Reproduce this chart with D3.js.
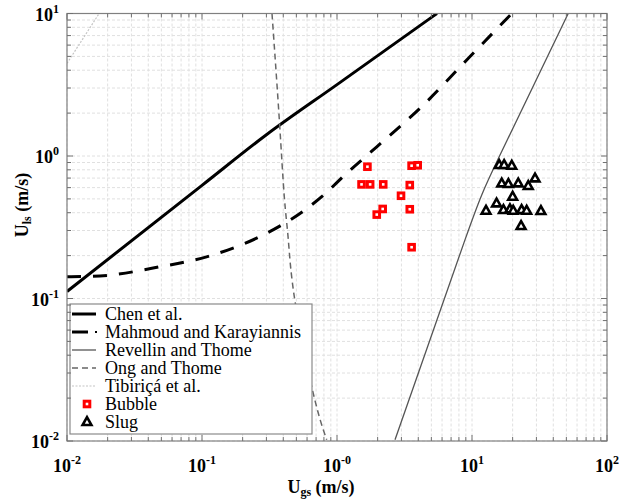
<!DOCTYPE html>
<html><head><meta charset="utf-8">
<script src="https://cdn.jsdelivr.net/npm/d3@7"></script>
<style>body{margin:0;background:#fff}svg{display:block}
text{font-family:"Liberation Serif","Times New Roman","DejaVu Serif",serif}</style>
</head><body><svg id="c" width="621" height="499"></svg>
<script>
// ---- data ----
const xTickVals = [1e-2, 1e-1, 1e0, 1e1, 1e2];
const xTickLabels = [["10","-2"],["10","-1"],["10","-0"],["10","1"],["10","2"]];
const yTickVals = [1e-2, 1e-1, 1e0, 1e1];
const yTickLabels = [["10","-2"],["10","-1"],["10","0"],["10","1"]];

const chenX = [0.01, 0.1, 0.3, 1, 5.5];
const chenY = [0.112, 0.622, 1.41, 3.17, 10];
const mahX = [0.01, 0.0175, 0.0489, 0.108, 0.170, 0.269, 0.771, 1.18, 1.97, 4.24, 9.14, 19.7];
const mahY = [0.142, 0.144, 0.167, 0.196, 0.226, 0.272, 0.518, 0.757, 1.16, 2.22, 4.72, 10];
const revX = [2.69, 8.87, 15.7, 51.6];
const revY = [0.0102, 0.258, 0.964, 10];
const ongX = [0.330, 0.374, 0.407, 0.436, 0.489, 0.667, 0.839];
const ongY = [10, 1.79, 0.518, 0.258, 0.095, 0.0216, 0.0102];
const tibX = [0.01, 0.0173];
const tibY = [4.47, 10];

const bubbleX = [1.68, 3.57, 3.96, 1.52, 1.76, 2.20, 3.46, 2.98, 2.18, 1.97, 3.46, 3.57];
const bubbleY = [0.841, 0.855, 0.861, 0.632, 0.632, 0.632, 0.625, 0.526, 0.425, 0.388, 0.423, 0.229];
const slugX = [15.9, 17.3, 19.7, 29.3, 16.6, 18.6, 22.0, 26.1, 20.0, 15.2, 12.7, 17.1, 19.1, 20.2, 23.3, 25.4, 32.4, 23.1];
const slugY = [0.865, 0.865, 0.855, 0.697, 0.643, 0.636, 0.643, 0.616, 0.518, 0.465, 0.413, 0.418, 0.423, 0.413, 0.418, 0.413, 0.411, 0.323];

const legendNames = ["Chen et al.", "Mahmoud and Karayiannis", "Revellin and Thome", "Ong and Thome", "Tibiriçá et al.", "Bubble", "Slug"];

// ---- layout ----
const L = 67, R = 607, T = 13.5, B = 441;
const svg = d3.select("#c");
const x = d3.scaleLog().domain([1e-2, 1e2]).range([L, R]);
const y = d3.scaleLog().domain([1e-2, 1e1]).range([B, T]);

svg.append("rect").attr("width", 621).attr("height", 499).attr("fill", "#fff");

const xMinor = [], yMinor = [];
for (let e = -2; e < 2; e++) for (let k = 1; k <= 9; k++) xMinor.push(k * Math.pow(10, e));
xMinor.push(100);
for (let e = -2; e < 1; e++) for (let k = 1; k <= 9; k++) yMinor.push(k * Math.pow(10, e));
yMinor.push(10);

const grid = svg.append("g").attr("stroke", "#e0e0e0").attr("stroke-width", 1).attr("stroke-dasharray", "3,2");
grid.selectAll("line.vx").data(xMinor).join("line")
  .attr("x1", d => x(d)).attr("x2", d => x(d)).attr("y1", T).attr("y2", B);
grid.selectAll("line.hy").data(yMinor).join("line")
  .attr("y1", d => y(d)).attr("y2", d => y(d)).attr("x1", L).attr("x2", R);

svg.append("clipPath").attr("id", "clip").append("rect")
  .attr("x", L).attr("y", T).attr("width", R - L).attr("height", B - T);

const zip = (a, b) => a.map((v, i) => [v, b[i]]);
const curves = svg.append("g").attr("clip-path", "url(#clip)").attr("fill", "none");

const styles = [
  {stroke: "#000", w: 3, dash: null, curve: d3.curveMonotoneX},
  {stroke: "#000", w: 3, dash: "14,12", curve: d3.curveMonotoneX},
  {stroke: "#555", w: 1.3, dash: null, curve: d3.curveNatural},
  {stroke: "#666", w: 1.5, dash: "6,4", curve: d3.curveNatural},
  {stroke: "#c4c4c4", w: 1.2, dash: "2,1.5", curve: d3.curveLinear}
];
const series = [zip(chenX, chenY), zip(mahX, mahY), zip(revX, revY), zip(ongX, ongY), zip(tibX, tibY)];
series.forEach((s, i) => {
  const line = d3.line().x(d => x(d[0])).y(d => y(d[1])).curve(styles[i].curve);
  curves.append("path").attr("d", line(s))
    .attr("stroke", styles[i].stroke).attr("stroke-width", styles[i].w)
    .attr("stroke-dasharray", styles[i].dash);
});

function bubble(g, cx, cy) {
  g.append("rect").attr("x", cx - 2.8).attr("y", cy - 2.8).attr("width", 5.6).attr("height", 5.6)
    .attr("fill", "#fff").attr("stroke", "#f00").attr("stroke-width", 3);
}
function tri(g, cx, cy) {
  g.append("path").attr("d", `M${cx},${cy - 4.8}L${cx + 4.4},${cy + 3}L${cx - 4.4},${cy + 3}Z`)
    .attr("fill", "#fff").attr("stroke", "#000").attr("stroke-width", 2.6).attr("stroke-linejoin", "miter");
}
const mk = svg.append("g");
bubbleX.forEach((v, i) => bubble(mk, x(v), y(bubbleY[i])));
slugX.forEach((v, i) => tri(mk, x(v), y(slugY[i])));

// legend
const lg = svg.append("g");
lg.append("rect").attr("x", 70).attr("y", 304).attr("width", 242).attr("height", 130)
  .attr("fill", "#fff").attr("stroke", "#8a8a8a").attr("stroke-width", 1.2);
legendNames.forEach((name, i) => {
  const base = 320 + i * 18, cy = base - 6;
  if (i < 5) {
    const st = styles[i];
    if (i === 1) {
      lg.append("line").attr("x1", 72).attr("x2", 88).attr("y1", cy).attr("y2", cy)
        .attr("stroke", "#000").attr("stroke-width", 3);
      lg.append("line").attr("x1", 95).attr("x2", 97).attr("y1", cy).attr("y2", cy)
        .attr("stroke", "#000").attr("stroke-width", 2);
    } else {
      lg.append("line").attr("x1", 72).attr("x2", 96).attr("y1", cy).attr("y2", cy)
        .attr("stroke", st.stroke).attr("stroke-width", st.w).attr("stroke-dasharray", st.dash);
    }
  } else if (i === 5) bubble(lg, 87, cy);
  else tri(lg, 87, cy);
  lg.append("text").attr("x", 105).attr("y", base)
    .attr("font-size", 18).attr("fill", "#000").text(name);
});

svg.append("rect").attr("x", L).attr("y", T).attr("width", R - L).attr("height", B - T)
  .attr("fill", "none").attr("stroke", "#808080").attr("stroke-width", 1.2);

const tk = svg.append("g").attr("stroke", "#707070").attr("stroke-width", 1);
const isMajor = v => Math.abs(Math.log10(v) - Math.round(Math.log10(v))) < 1e-9;
xMinor.forEach(v => {
  const len = isMajor(v) ? 6 : 4;
  tk.append("line").attr("x1", x(v)).attr("x2", x(v)).attr("y1", B).attr("y2", B - len);
  tk.append("line").attr("x1", x(v)).attr("x2", x(v)).attr("y1", T).attr("y2", T + len);
});
yMinor.forEach(v => {
  const len = isMajor(v) ? 6 : 4;
  tk.append("line").attr("y1", y(v)).attr("y2", y(v)).attr("x1", L).attr("x2", L + len);
  tk.append("line").attr("y1", y(v)).attr("y2", y(v)).attr("x1", R).attr("x2", R - len);
});

function supLabel(g, px, py, parts, anchor) {
  const t = g.append("text").attr("x", px).attr("y", py).attr("text-anchor", anchor)
    .attr("font-weight", "bold").attr("font-size", 18).attr("fill", "#000");
  t.append("tspan").text(parts[0]);
  t.append("tspan").attr("dy", -8).attr("font-size", 12).text(parts[1]);
}
const lab = svg.append("g");
xTickVals.forEach((v, i) => supLabel(lab, x(v), 472, xTickLabels[i], "middle"));
yTickVals.forEach((v, i) => supLabel(lab, 59, y(v) + 7, yTickLabels[i], "end"));

const xt = svg.append("text").attr("x", 321).attr("y", 493).attr("text-anchor", "middle")
  .attr("font-weight", "bold").attr("font-size", 18);
xt.append("tspan").text("U");
xt.append("tspan").attr("dy", 3).attr("font-size", 12).text("gs");
xt.append("tspan").attr("dy", -3).text(" (m/s)");

const yt = svg.append("text").attr("transform", "translate(28,205) rotate(-90)").attr("text-anchor", "middle")
  .attr("font-weight", "bold").attr("font-size", 18);
yt.append("tspan").text("U");
yt.append("tspan").attr("dy", 3).attr("font-size", 12).text("ls");
yt.append("tspan").attr("dy", -3).text(" (m/s)");
</script></body></html>
